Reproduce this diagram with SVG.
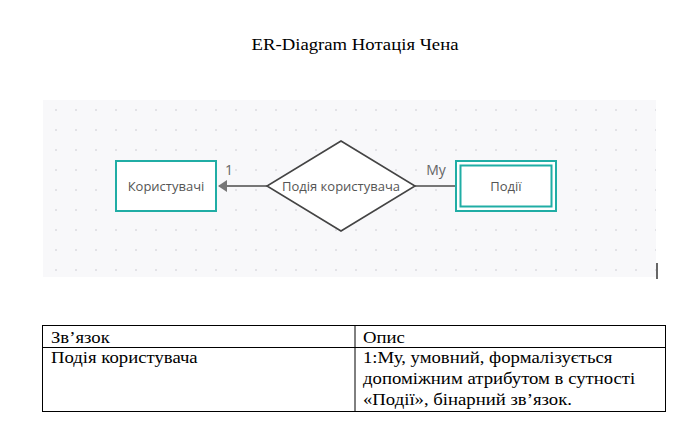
<svg xmlns="http://www.w3.org/2000/svg" width="693" height="433" viewBox="0 0 693 433">
<style>
.title{font-family:"Liberation Serif","Times New Roman",serif;font-size:16px;fill:#000}
.tbl{font-family:"Liberation Serif","Times New Roman",serif;font-size:16px;fill:#000}
.lbl{font-family:"Open Sans","Noto Sans",sans-serif;font-size:13px;fill:#555}
.card{font-family:"Open Sans","Noto Sans",sans-serif;font-size:14px;fill:#666}
.ent{fill:#fff;stroke:#20ada5;stroke-width:2}
.rel{fill:#fff;stroke:#444;stroke-width:1.6}
.conn{stroke:#777;stroke-width:2.2;fill:none}
.grid{fill:none;stroke:#000;stroke-width:1}
</style>
<defs>
<pattern id="dots" patternUnits="userSpaceOnUse" x="46" y="100" width="20" height="20">
<circle cx="10" cy="10" r="1.1" fill="#dcdce2"/>
</pattern>
<marker id="arr" markerWidth="10" markerHeight="12" refX="8" refY="6" orient="auto" markerUnits="userSpaceOnUse">
<path d="M0,0 L9,6 L0,12 Z" fill="#777"/>
</marker>
</defs>
<rect width="693" height="433" fill="#fff"/>
<text class="title" transform="translate(355,50) scale(1.17,1)" text-anchor="middle">ER-Diagram Нотація Чена</text>
<rect x="43" y="100" width="613" height="177" fill="#f8f8fa"/>
<rect x="43" y="100" width="613" height="177" fill="url(#dots)"/>
<line x1="657" y1="263" x2="657" y2="279" stroke="#000" stroke-width="1.2"/>
<g id="connectors">
<line class="conn" x1="267" y1="186" x2="219" y2="186" marker-end="url(#arr)"/>
<line class="conn" x1="415" y1="186" x2="456" y2="186"/>
<text class="card" x="229" y="175" text-anchor="middle">1</text>
<text class="card" x="436" y="175" text-anchor="middle">My</text>
</g>
<g id="users">
<rect class="ent" x="116" y="161" width="100" height="50"/>
<text class="lbl" x="166" y="190.5" text-anchor="middle">Користувачі</text>
</g>
<g id="relation">
<path class="rel" d="M341,141 L415,186 L341,231 L267,186 Z"/>
<text class="lbl" x="341" y="190.5" text-anchor="middle">Подія користувача</text>
</g>
<g id="events">
<rect class="ent" x="456" y="161" width="100" height="50"/>
<rect class="ent" x="460.5" y="165.5" width="91" height="41"/>
<text class="lbl" x="506" y="190.5" text-anchor="middle">Події</text>
</g>
<g id="table">
<rect class="grid" x="42.5" y="325.5" width="623" height="86"/>
<line class="grid" x1="42.5" y1="347.5" x2="665.5" y2="347.5"/>
<line class="grid" x1="355" y1="325.5" x2="355" y2="411.5"/>
<text class="tbl" transform="translate(51,342.5) scale(1.17,1)">Зв’язок</text>
<text class="tbl" transform="translate(363,342.5) scale(1.17,1)">Опис</text>
<text class="tbl" transform="translate(51,363) scale(1.17,1)">Подія користувача</text>
<text class="tbl" transform="translate(363,363) scale(1.17,1)">1:Му, умовний, формалізується</text>
<text class="tbl" transform="translate(363,384) scale(1.17,1)">допоміжним атрибутом в сутності</text>
<text class="tbl" transform="translate(363,405) scale(1.17,1)">«Події», бінарний зв’язок.</text>
</g>
</svg>
